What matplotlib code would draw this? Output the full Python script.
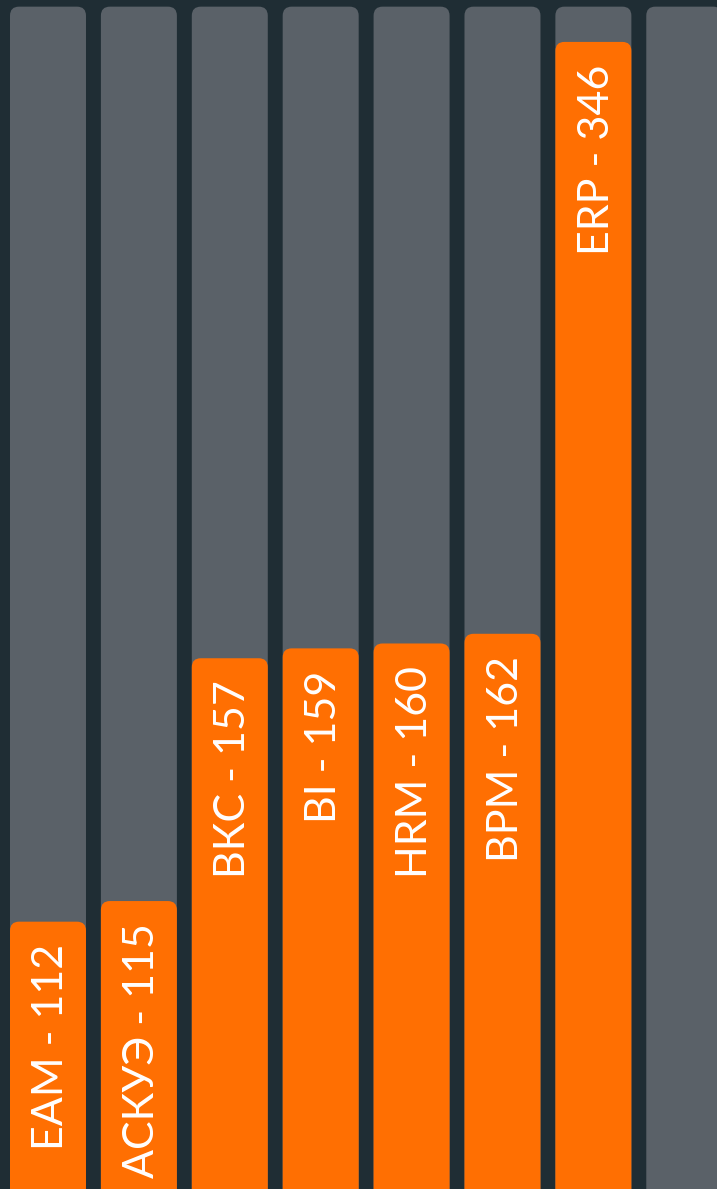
import numpy as np
import matplotlib
matplotlib.use('Agg')
import matplotlib.pyplot as plt
from matplotlib.patches import FancyBboxPatch

# data
labels = ['EAM', 'АСКУЭ', 'ВКС', 'BI', 'HRM', 'BPM', 'ERP', '']
values = [112, 115, 157, 159, 160, 162, 346, None]
track_max = 362

bg = '#1f2d34'
grey = '#5a6168'
orange = '#ff6f02'

fig = plt.figure(figsize=(7.17, 11.89), dpi=100, facecolor=bg)
ax = fig.add_axes([0, 0, 1, 1])
ax.set_facecolor(bg)
ax.set_yscale('log')
ax.set_xlim(-0.528, 7.36)
ax.set_ylim(79.5, 365.1)
ax.axis('off')

width = 0.836
x = np.arange(len(labels))


def rounded_bar(xc, top, color, w=width, r=9):
    # convert to pixels so corners stay round on a log axis
    (x0, y0) = ax.transData.transform((xc - w / 2, 79.5))
    (x1, y1) = ax.transData.transform((xc + w / 2, top))
    p = FancyBboxPatch((x0, y0 - 40), x1 - x0, y1 - y0 + 40,
                       boxstyle='round,pad=0,rounding_size=%d' % r,
                       fc=color, ec='none', transform=None)
    p.set_clip_path(ax.patch)
    ax.add_artist(p)


for i in x:
    rounded_bar(i, track_max, grey)

for i, (lab, v) in enumerate(zip(labels, values)):
    if v is None:
        continue
    rounded_bar(i, v, orange)
    ax.annotate('%s - %d' % (lab, v), xy=(i, v), xytext=(11, -16),
                textcoords='offset points', rotation=90,
                rotation_mode='anchor', ha='right', va='baseline',
                color='white', fontsize=31, fontweight='normal',
                family=['Lato', 'DejaVu Sans'])

fig.savefig('out.png', dpi=100, facecolor=bg)
